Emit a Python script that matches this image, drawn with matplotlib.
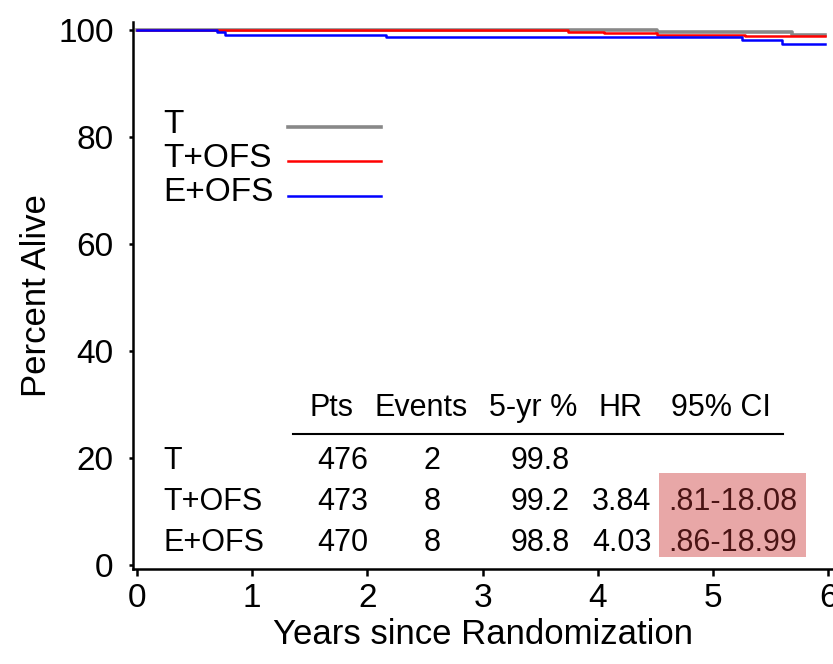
import matplotlib
matplotlib.use('Agg')
import matplotlib.pyplot as plt
from matplotlib.patches import Rectangle

plt.rcParams['font.family'] = ['Liberation Sans', 'DejaVu Sans']

# step curves (years, percent alive)
t_years = [0, 4.51, 5.69, 5.97]
t_pct = [100, 99.7, 99.1, 99.1]
tofs_years = [0, 3.74, 4.05, 4.51, 5.28, 5.97]
tofs_pct = [100, 99.75, 99.6, 99.2, 98.9, 98.9]
eofs_years = [0, 0.69, 0.76, 2.16, 4.24, 5.25, 5.6, 5.97]
eofs_pct = [100, 99.7, 99.2, 98.85, 98.7, 98.2, 97.5, 97.5]

arms = ['T', 'T+OFS', 'E+OFS']
colors = ['#888888', '#ff0000', '#0000ff']
widths = [2.6, 1.8, 1.8]

header = ['Pts', 'Events', '5-yr %', 'HR', '95% CI']
pts = ['476', '473', '470']
events = ['2', '8', '8']
five_yr = ['99.8', '99.2', '98.8']
hr = ['', '3.84', '4.03']
ci = ['', '.81-18.08', '.86-18.99']

fig = plt.figure(figsize=(8.33, 6.64), dpi=100)
ax = fig.add_axes([0.1597, 0.143, 0.84, 0.824])

curves = [(t_years, t_pct), (tofs_years, tofs_pct), (eofs_years, eofs_pct)]
for (x, y), c, w in zip(curves, colors, widths):
    ax.step(x, y, where='post', color=c, linewidth=w)

ax.set_xlim(-0.035, 6.04)
ax.set_ylim(-0.75, 101.6)
ax.set_xticks(range(0, 7))
ax.set_yticks(range(0, 101, 20))
ax.spines['top'].set_visible(False)
ax.spines['right'].set_visible(False)
for s in ['left', 'bottom']:
    ax.spines[s].set_linewidth(1.8)
ax.tick_params(axis='both', labelsize=24, width=1.8)
ax.tick_params(axis='y', length=3, pad=11)
ax.tick_params(axis='x', length=5, pad=5)
ax.set_xlabel('Years since Randomization', fontsize=25, labelpad=3)
ax.set_ylabel('Percent Alive', fontsize=25, labelpad=4)

# legend drawn by hand: label on the left, line on the right
leg_y = [82.5, 76.1, 69.7]
for name, c, w, yy in zip(arms, colors, widths, leg_y):
    ax.text(0.23, yy, name, fontsize=24, va='center', ha='left')
    ax.plot([1.31, 2.12], [yy - 0.6, yy - 0.6], color=c, linewidth=w)

# table
col_x = [1.69, 2.47, 3.44, 4.2, 5.07]
for h, cx in zip(header, col_x):
    ax.text(cx, 29.3, h, fontsize=22, ha='center', va='center')
ax.plot([1.35, 5.61], [24.5, 24.5], color='black', linewidth=1.5)

ax.add_patch(Rectangle((4.53, 1.5), 1.28, 15.7, facecolor='#e8a7a7', edgecolor='none', zorder=0))

row_y = [19.4, 11.8, 4.2]
val_x = [1.79, 2.56, 3.5, 4.21, 5.17]
for i, yy in enumerate(row_y):
    ax.text(0.23, yy, arms[i], fontsize=22, ha='left', va='center')
    vals = [pts[i], events[i], five_yr[i], hr[i], ci[i]]
    for j, (v, cx) in enumerate(zip(vals, val_x)):
        col = '#4a1414' if j == 4 else 'black'
        ax.text(cx, yy, v, fontsize=22, ha='center', va='center', color=col)

fig.savefig('out.png', dpi=100)
